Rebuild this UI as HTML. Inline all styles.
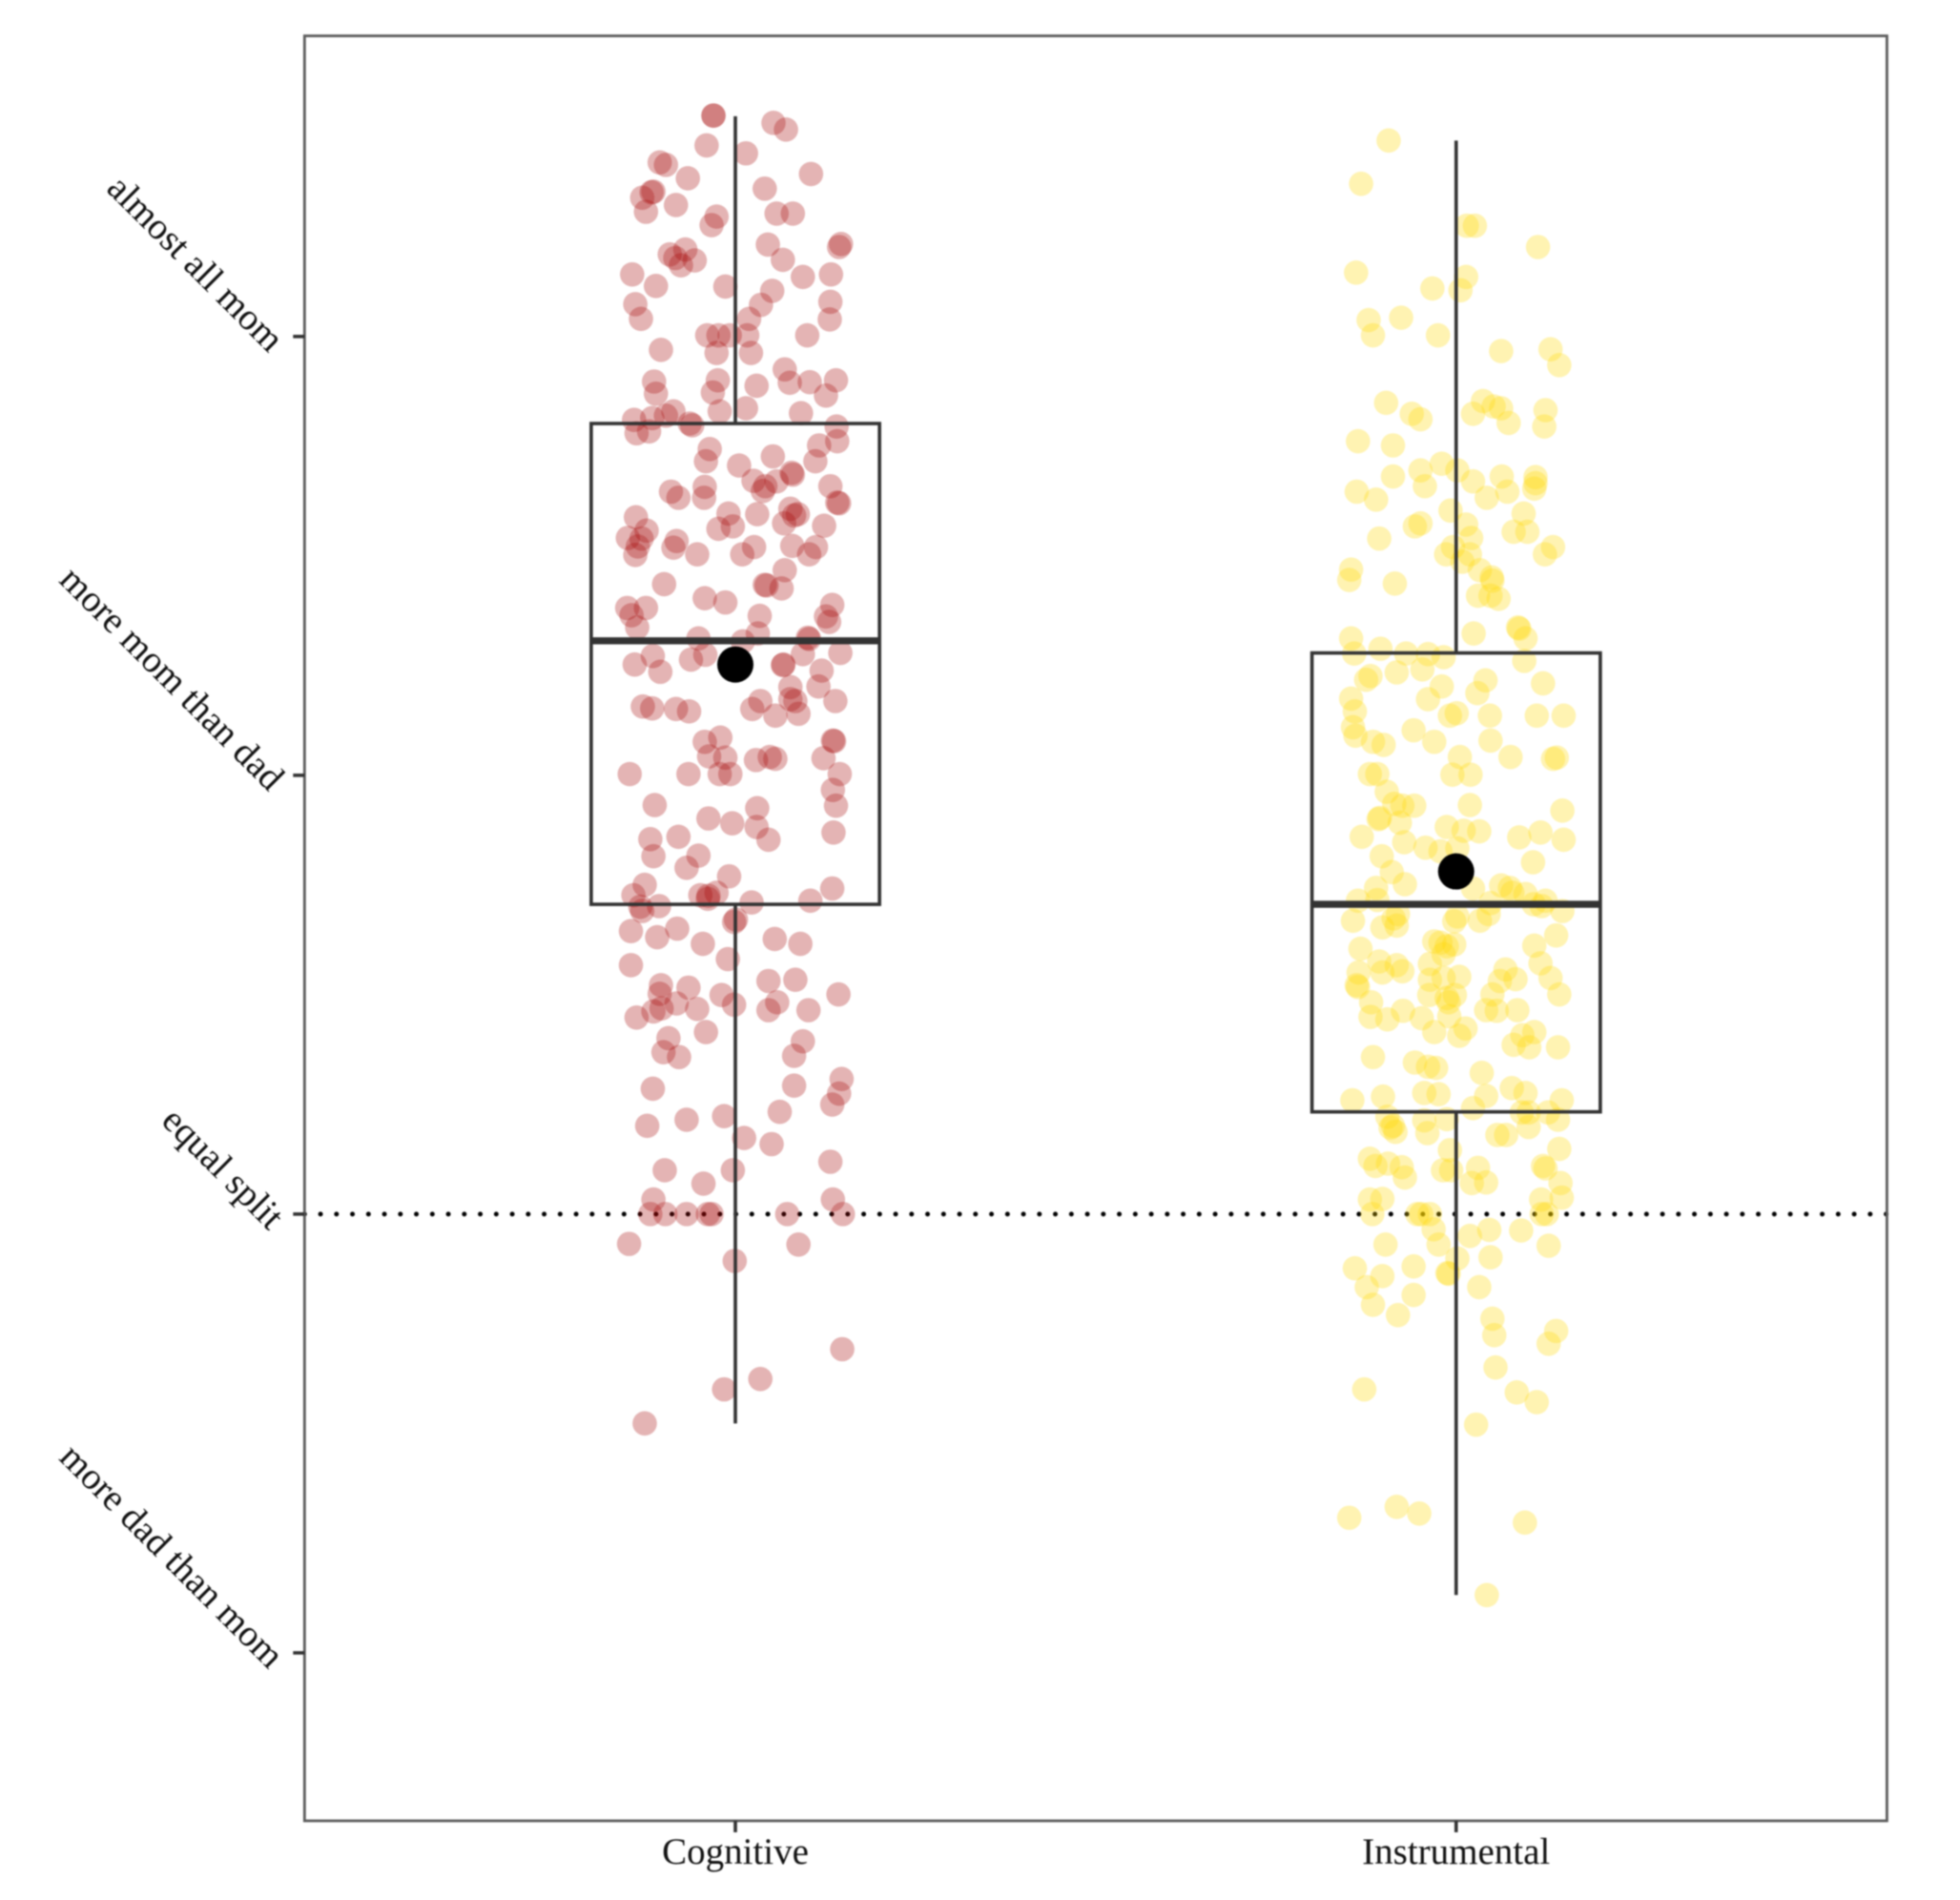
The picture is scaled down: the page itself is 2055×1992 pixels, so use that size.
<!DOCTYPE html>
<html lang="en">
<head>
<meta charset="utf-8">
<title>Cognitive and instrumental labor split</title>
<style>
  html, body { margin: 0; padding: 0; background: #ffffff; }
  #chart { display: block; width: 2055px; height: 1992px; filter: blur(0.7px); }
  text { font-family: "Liberation Serif", "Times New Roman", serif; fill: #111; }
</style>
</head>
<body>
<svg id="chart" xmlns="http://www.w3.org/2000/svg" width="2055" height="1992" viewBox="0 0 2055 1992"></svg>
<script>
const categories = ["Cognitive", "Instrumental"];
const yTickLabels = ["more dad than mom", "equal split", "more mom than dad", "almost all mom"];
const yTickValues = [-72.1, 0, 72.1, 144.2];
const referenceValue = [0];

const boxQ1 = [50.9, 16.8];
const boxMedian = [94.2, 50.9];
const boxQ3 = [129.9, 92.2];
const whiskerLow = [-34.4, -62.6];
const whiskerHigh = [180.4, 176.4];
const groupMean = [90.3, 56.3];

const cognitiveJitter = [
-3.5,-3.5,6.1,8.1,-4.6,1.7,-12.1,-11.1,-7.6,12.1,
4.7,-14.9,-13.4,-13.1,-14.3,-9.5,6.6,9.2,-3,-3.8,
5.2,16.9,16.6,-10.5,-8,-9.6,-8.7,-6.5,7.6,-16.5,
-12.7,-1.6,10.8,15.3,5.9,-16,-15.1,4.1,15.2,15.1,
2.2,-4.5,-2.7,-0.9,1.9,11.5,-3,2.5,-11.9,7.9,
-13,-2.8,8.7,11.9,16.1,3.4,-12.7,-3.6,14.5,-2.5,
1.7,10.5,-9.9,-11.1,-16.2,-13.3,-7.3,-6.9,16.2,-15.8,
-13.8,-4.1,16.3,13.4,-4.7,6,12.8,0.6,9.2,9,
2.9,6.6,4.8,4.4,-10.3,-9.1,-4.9,-5,15.2,16.6,
16.3,-15.9,3.5,8.8,7.8,10,9.4,-1.1,-14.2,-2.7,
-0.4,14.2,-17.2,-15,-9.4,-9.9,-15.6,-16,-6.1,3,
1.1,9.1,11.8,12.9,7.9,-11.4,5,4.7,7.4,-4.9,
-1.6,15.5,-17.3,-14.3,-16.6,-15.7,3.9,14.5,15,-5.9,
3.6,1.2,11.8,11.6,16.8,10.8,-13.2,-4.8,-7.1,-16.1,
-12,7.7,7.6,13.8,8.8,13.3,4,8.8,9.6,16,
-14.8,-13.3,-9.5,-7.4,2.7,6.4,10.1,-2.4,-4.9,15.8,
15.6,-4.2,-1.6,3.3,5.5,6.4,14.1,-16.9,-7.5,-2.5,
-0.8,16.7,15.6,16.1,-12.9,3.5,-4.3,-0.5,3.4,5.3,
15.7,-13.6,-9.1,-13.1,-5.9,-7.8,-1,-14.5,15.5,-16.3,
-15.2,-12.2,-5.6,-4.3,-3,-4.4,-14.9,2.6,12,0.1,
-0.2,-9.3,-16.7,-12.5,-5.2,6.3,10.4,-1.2,-16.7,-11.9,
-7.5,-12.1,5.3,9.6,-2.2,16.5,-9.4,-0.2,6.7,-6.1,
-13.1,-11.8,-15.8,5.3,11.7,-4.7,-10.7,10.8,-11.5,-9,
9.4,-13.2,9.4,17,16.6,15.5,7.1,-1.8,-7.8,-14.1,
1.4,5.8,15.2,-11.3,-0.4,-5.1,-13.1,15.6,-13.6,-11.2,
-7.8,-4.4,-3.8,8.3,17.2,-17,10.1,-0.1,17.1,4,
-1.8,-14.5
];
const cognitiveValues = [
180.5,180.5,179.3,178.2,175.6,174.3,172.8,172.4,170.2,170.9,
168.5,167,167.9,168,164.7,165.8,164.4,164.4,163.9,162.5,
159.3,159.4,158.9,157.7,158.5,157.1,155.9,156.7,156.8,154.4,
152.5,152.4,154,154.4,151.7,149.5,147.1,149.4,149.9,147,
147.1,144.4,144.4,144.4,144.4,144.4,141.5,141.5,142,138.8,
136.8,137,136.6,136.7,137,136.1,134.8,135,134.5,131.9,
132.4,131.6,131.9,131.2,130.5,130.8,129.9,129.6,129.4,128.3,
128.6,125.7,127,126.3,123.7,124.5,123.7,123,121.5,121.8,
120.5,120.4,119.6,118.8,118.7,117.7,119.5,117.7,119.6,116.8,
116.9,114.5,115,115.9,113.5,115,114.8,115.1,112.3,112.6,
113,113.1,111.1,111,110.6,109.5,109.7,108.3,108.4,109.6,
108.4,109.8,108.4,109.6,105.8,103.5,103.3,103.4,102.8,101.2,
100.5,100.1,99.6,99.6,98.4,96.4,98.3,98.2,97.3,94.6,
95.4,94.1,94.5,94.7,92.2,92,91.7,91.9,91.1,90.3,
89.1,90.3,90.2,89.3,86.6,86.7,84.3,84.6,84.3,84.3,
83.4,83.1,83,82.6,83,81.9,82.2,78.3,77.6,77.7,
77.8,75.2,75,74.6,75.1,74.8,74.9,72.3,72.3,72.3,
72.3,72.3,69.7,67.1,67.2,66.7,65,64.2,63.6,61.5,
62.7,61.6,62,58.8,58.9,56.9,55.5,54.1,53.5,52.4,
50.5,50.6,52.4,52.3,52.8,51.8,49.8,51.2,51.5,48.4,
48,46.9,46.5,45.5,44.4,45.2,44.4,41.9,40.9,37.6,
37.2,36.2,38.3,38.5,36,36.1,34.6,34.4,34.8,33.7,
33.3,33.8,32.3,33.5,33.5,29.9,28.9,28.4,26.6,25.8,
26,20.6,21.1,22.2,19.8,18,16.8,16.1,15.5,14.5,
12.5,11.5,8.6,7.2,7.2,5,2.4,2.4,0,0,
0,0,0,0,0,-4.9,-5,-7.7,-22.2,-27.1,
-28.8,-34.4
];

const instrumentalJitter = [
-10.8,-15.2,1.7,3,13.1,-16,-3.8,1.6,0.7,-14,
-8.8,-13.3,-2.9,7.2,15.1,16.5,4.3,6,7.2,-11.2,
-7.1,-5.7,2.7,8.4,14.3,14.1,-15.7,-10.1,-2.3,-5.7,
0.2,2.7,-10.1,7.3,12.7,12.7,12.5,-15.9,-5,-12.8,
8.2,4.9,-0.9,10.8,1.6,-5.7,-6.6,-12.3,2.4,9.2,
11.4,15.5,14.2,-0.5,2.2,-1.6,1,-16.8,-17.1,-9.8,
3.8,5.7,5.8,3.5,5.5,6.8,9.9,10.1,2.8,11.1,
-16.8,-16.3,-12.1,-8,-4.5,-2,10.9,-9.5,-5.4,-13.7,
-14.4,4.7,13.9,-2.3,3.4,-16.8,-4.5,-16.2,0.1,-1,
5.4,12.9,17.2,-16.5,-6.8,-16.1,-13.3,-11.6,-3.5,5.5,
0.6,8.7,15.5,16.1,-13.8,-12.6,-0.6,2.3,-11.1,-9.9,
-8.6,-6.7,2.2,17,-12.4,-12.2,-9,-1.5,1.2,3.7,
-15.1,10.1,13.5,17.2,-8.3,-4.9,-2.5,0.2,-11.9,12.3,
-10.3,-8.2,-12.8,7.2,8.6,9,11.1,2.7,-15.7,-12.6,
5.5,14.3,12.4,13.7,17,-9.3,-10,5.2,0.2,-0.3,
-16.5,-11.8,-9.5,3.8,16,-3.5,-2.5,-0.3,-1.5,12.5,
-15.3,-12.3,-9.5,-8.6,-11.8,-15.6,-4.2,-2,13.5,7.9,
15.1,9.5,7,-4.2,0.5,-2,-15.9,-15.7,16.5,5.8,
-4.3,-0.2,-1.5,-1.2,-13.6,-8.5,9.8,4.8,6.5,-5.5,
-13.7,-11,-1.1,1.5,12.5,-3.5,10.6,0.5,9.2,11.7,
16.3,-13.3,-6.6,-4.5,-3.2,4.1,8.9,11.1,-5.1,-2.8,
-11.7,-16.6,16.9,4.8,2.7,10.5,11.6,14.7,-11,-5.1,
-1.5,16.3,11.6,-10.5,-10.1,-9.7,-4.6,6.6,8,16.5,
-1,-13.8,-12.9,-10.9,-8.7,13.9,14.3,-8.2,-2.1,-0.8,
3.5,2.5,4.8,16.7,-13.8,-11.8,13.6,16.9,-13.4,-6.2,
-5.6,-4.2,13.7,14.5,-3.6,5.3,2.2,10.4,-11.3,-2.8,
14.8,0.2,5.5,-16.2,-6.8,-11.8,-1.2,-1.4,-14.3,3.7,
-6.8,-13.3,-9.3,5.8,16,6.1,14.8,6.3,-14.7,9.7,
12.9,3.2,-9.5,-5.9,-17.1,11,4.9
];
const instrumentalValues = [
176.4,169.3,162.4,162.4,158.9,154.7,152.1,154,151.8,146.9,
147.3,144.4,144.4,141.8,142.1,139.5,133.6,132.7,132.4,133.3,
131.5,130.6,131.5,130,132.1,129.4,127,126.3,123.3,122.2,
122.2,120.4,121.2,121.2,121.1,120.1,119.2,118.7,119.6,117.4,
118.7,117.7,115.6,115.1,113.3,113.5,113,111,111.1,112.1,
112.1,109.6,108.4,109.6,108.4,108.4,107.2,105.9,104.2,103.6,
105.8,104.6,104.1,101.6,101.6,101.1,96.4,96.2,95.4,94.6,
94.6,92.1,92.9,92.1,92,91.5,90.9,89,89.5,88.4,
87.8,87.7,87.2,86.7,85.6,84.7,84.6,82.6,82.3,81.9,
81.9,81.9,81.9,80,79.5,78.6,77.6,77.1,77.6,77.8,
75.1,75.1,74.8,75,72.3,72.3,72.2,72.2,69.4,67.4,
67.1,67.1,67.2,66.3,64.9,65.1,64.3,63.6,63,62.9,
62,61.9,62.7,61.5,61.1,60.2,59.6,60.1,58.8,57.8,
56.2,54.2,53.6,54,53.6,52.8,52.6,53.5,51.5,51.6,
51.1,51.5,50.9,50.6,49.8,49.3,48.6,49.3,48.9,48.1,
48.2,47.1,47.4,48.2,45.8,44.8,44.6,44.3,44,44.1,
43.6,41.5,40.9,39.9,39.7,39.7,41.1,42.7,41.2,40.2,
38.8,38.6,38.3,38.5,39,38.8,37.6,37.3,36.1,36.1,
36,36,35.5,34.8,34.8,33.4,33.5,33.5,33.4,32.2,
32.4,32,32.5,30.5,29.9,29.9,29.4,29.3,27.8,27.4,
27.4,25.8,24.9,24.2,24,23.2,20.7,19.9,19.9,19.7,
19.3,18.7,18.7,19.4,17.4,16.7,16.7,16.7,16,15.4,
15.6,15.5,14.3,14.2,14.5,13.5,13.3,13,13,10.7,
10.5,9.1,7.9,8.3,7.7,7.9,7.5,6,7.2,7.2,
7.6,5.1,5.2,5.1,2.4,2.5,2.4,2.7,0,0,
0,0,0,0,-2.5,-2.6,-3.6,-2.7,-5,-5,
-5.2,-7.3,-7.1,-8.9,-8.6,-10.2,-9.8,-9.7,-12,-12,
-13.3,-14.9,-16.6,-17.2,-19.2,-19.9,-21.3,-25.2,-28.8,-29.3,
-30.9,-34.6,-48.1,-49.2,-49.9,-50.7,-62.6
];

const panel = { left: 319.3, right: 1978.4, top: 37.6, bottom: 1909 };
const xDomain = [0.4023, 2.5977];
const yDomain = [-99.7, 193.6];
const jitterUnitsPerCategory = 115.3;
const boxWidth = 0.4;

function xScale(v) {
  return panel.left + (v - xDomain[0]) / (xDomain[1] - xDomain[0]) * (panel.right - panel.left);
}
function yScale(v) {
  return panel.bottom - (v - yDomain[0]) / (yDomain[1] - yDomain[0]) * (panel.bottom - panel.top);
}

const svg = document.getElementById('chart');
const NS = 'http://www.w3.org/2000/svg';
function make(tag, attrs) {
  const el = document.createElementNS(NS, tag);
  for (const k in attrs) el.setAttribute(k, attrs[k]);
  svg.appendChild(el);
  return el;
}

// reference line
referenceValue.forEach(function (v) {
  const line = make('line', { x1: panel.left, x2: panel.right, y1: yScale(v), y2: yScale(v), stroke: '#000', 'stroke-width': 5, 'stroke-linecap': 'round', 'stroke-dasharray': '0 16.75' });
  
  
});

// jittered points
const seriesJitter = [cognitiveJitter, instrumentalJitter];
const seriesValues = [cognitiveValues, instrumentalValues];
const seriesColor = ['rgb(165,6,6)', 'rgb(255,215,0)'];
seriesValues.forEach(function (values, s) {
  values.forEach(function (v, i) {
    const dot = make('circle', { cx: xScale(s + 1 + seriesJitter[s][i] / jitterUnitsPerCategory), cy: yScale(v), r: 12.8, fill: seriesColor[s], 'fill-opacity': 0.3 });
    
    
  });
});

// boxes and whiskers
categories.forEach(function (c, i) {
  const key = c.toLowerCase();
  const cx = xScale(i + 1);
  const x0 = xScale(i + 1 - boxWidth / 2);
  const x1 = xScale(i + 1 + boxWidth / 2);

  const upper = make('line', { x1: cx, x2: cx, y1: yScale(whiskerHigh[i]), y2: yScale(boxQ3[i]), stroke: '#333', 'stroke-width': 3.6 });
  
  

  const lower = make('line', { x1: cx, x2: cx, y1: yScale(boxQ1[i]), y2: yScale(whiskerLow[i]), stroke: '#333', 'stroke-width': 3.6 });
  
  

  const box = make('rect', { x: x0, y: yScale(boxQ3[i]), width: x1 - x0, height: yScale(boxQ1[i]) - yScale(boxQ3[i]), fill: 'none', stroke: '#333', 'stroke-width': 3.6 });
  
  

  const median = make('line', { x1: x0, x2: x1, y1: yScale(boxMedian[i]), y2: yScale(boxMedian[i]), stroke: '#333', 'stroke-width': 7.4 });
  
  

  const mean = make('circle', { cx: cx, cy: yScale(groupMean[i]), r: 19, fill: '#000' });
  
  
});

// panel border
const border = make('rect', { x: panel.left, y: panel.top, width: panel.right - panel.left, height: panel.bottom - panel.top, fill: 'none', stroke: '#5c5c5c', 'stroke-width': 2.8 });



// y axis
yTickValues.forEach(function (v, i) {
  const y = yScale(v);
  const tick = make('line', { x1: panel.left - 12, x2: panel.left, y1: y, y2: y, stroke: '#333', 'stroke-width': 3.6 });
  
  

  const label = make('text', { x: 282, y: y + 18, 'text-anchor': 'end', 'font-size': 39, transform: 'rotate(45 282 ' + (y + 18) + ')' });
  label.textContent = yTickLabels[i];
  
  
});

// x axis
categories.forEach(function (c, i) {
  const x = xScale(i + 1);
  const tick = make('line', { x1: x, x2: x, y1: panel.bottom, y2: panel.bottom + 12, stroke: '#333', 'stroke-width': 3.6 });
  
  

  const label = make('text', { x: x, y: 1954, 'text-anchor': 'middle', 'font-size': 39 });
  label.textContent = c;
  
  
});
</script>
</body>
</html>
